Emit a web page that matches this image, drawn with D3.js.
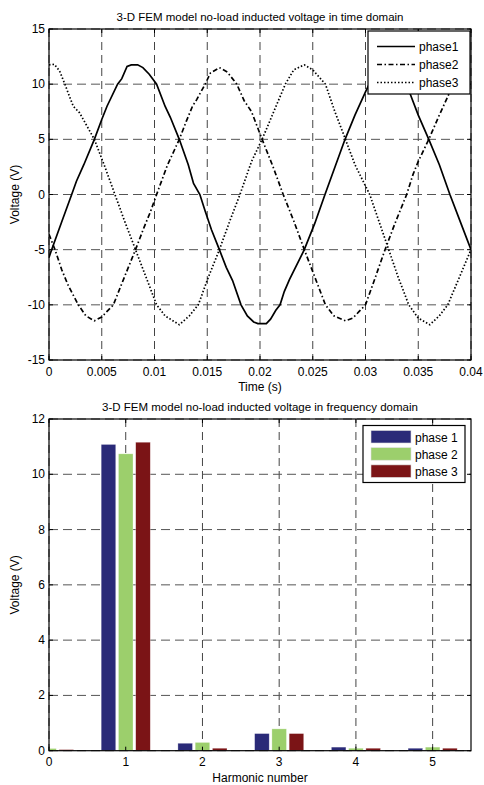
<!DOCTYPE html>
<html>
<head>
<meta charset="utf-8">
<script src="https://cdn.jsdelivr.net/npm/d3@7"></script>
<style>
  body { margin: 0; background: #fff; }
  text { font-family: "Liberation Sans", Arial, sans-serif; fill: #000; }
</style>
</head>
<body>
<div id="viz"></div>
<script>
// values: [time in ms, voltage]
let phase1 = [
  [0, -5.7], [0.25, -5], [1.2, -2.5], [2.15, 0], [2.6, 1.2], [3.3, 2.7], [4.3, 5],
  [5.0, 6.8], [5.5, 8.0], [6.5, 10], [6.9, 10.5], [7.4, 11.6], [7.8, 11.75], [8.4, 11.75],
  [8.9, 11.5], [9.5, 10.9], [10.2, 10], [11.0, 8.0], [11.5, 7.0], [12.35, 5], [13.2, 2.7],
  [13.7, 1.0], [14.3, 0], [14.8, -1.5], [15.4, -3.2], [16.15, -5], [16.8, -6.6], [17.4, -7.8],
  [18.2, -10], [18.8, -11.0], [19.4, -11.55], [19.8, -11.7], [20.6, -11.7], [21.0, -11.3],
  [21.5, -10.5], [21.9, -10], [22.3, -8.8], [22.8, -7.7], [24.2, -5], [25.2, -2.6], [26.16, 0],
  [28.06, 5], [29.0, 7.2], [30.0, 9.3], [30.6, 10.5], [31.2, 11.4], [31.8, 11.75], [32.6, 11.75],
  [33.2, 11.3], [33.8, 10.2], [34.2, 9.2], [35.0, 7.2], [36.0, 5], [37.0, 2.7], [38.0, 0],
  [39.0, -2.5], [40.0, -5]
];
let phase2 = [
  [0, -3.6], [0.57, -5], [1.2, -6.8], [1.8, -8.2], [2.78, -10], [3.5, -11.0], [4.3, -11.45],
  [5.0, -11.1], [5.5, -10.6], [6.1, -10], [7.1, -7.6], [8.2, -5], [9.0, -3.0], [9.6, -1.6],
  [10.2, 0], [11.2, 2.6], [12.35, 5], [13.0, 6.6], [13.6, 8.0], [14.0, 8.6], [14.8, 10],
  [15.3, 11.0], [16.15, 11.5], [16.9, 11.1], [17.8, 10], [18.5, 8.5], [19.2, 7.5], [20.2, 5],
  [21.2, 2.6], [22.2, 0], [23.2, -2.4], [24.2, -5], [25.2, -7.5], [26.2, -10], [27.0, -11.0],
  [28.1, -11.45], [28.8, -11.2], [29.4, -10.6], [30.0, -10.0], [30.9, -7.6], [31.85, -5],
  [32.8, -2.6], [33.9, 0], [34.5, 1.8], [35.0, 3.0], [36.0, 5], [37.0, 7.2], [38.0, 9.3],
  [38.8, 10.8], [39.5, 11.4], [40.0, 11.5]
];
let phase3 = [
  [0, 11.75], [0.5, 11.8], [1.0, 11.2], [1.5, 10], [2.3, 8.0], [2.9, 7.4], [4.3, 5],
  [5.3, 2.5], [6.25, 0], [7.2, -2.5], [8.2, -5], [9.2, -7.5], [10.2, -10], [11.0, -11.0],
  [12.35, -11.8], [13.3, -11.0], [14.15, -10], [15.1, -7.5], [16.15, -5], [17.1, -2.5],
  [18.1, 0], [19.2, 3.0], [20.2, 5], [21.3, 7.5], [22.4, 10], [23.2, 11.3], [24.2, 11.75],
  [25.0, 11.3], [26.2, 10], [27.1, 7.5], [28.1, 5], [29.0, 2.7], [30.4, 0], [31.3, -2.5],
  [32.2, -5], [33.1, -7.5], [34.1, -10], [35.0, -11.2], [36.1, -11.8], [37.0, -11.0],
  [37.8, -10], [38.9, -7.5], [40.0, -5]
];
let timeTicks = [0, 0.005, 0.01, 0.015, 0.02, 0.025, 0.03, 0.035, 0.04];
let voltTicks = [-15, -10, -5, 0, 5, 10, 15];

// harmonic spectrum
let harmonics = [0, 1, 2, 3, 4, 5];
let amp1 = [0.03, 11.08, 0.27, 0.62, 0.13, 0.09];
let amp2 = [0.08, 10.74, 0.30, 0.79, 0.09, 0.13];
let amp3 = [0.04, 11.16, 0.09, 0.62, 0.09, 0.09];
let ampTicks = [0, 2, 4, 6, 8, 10, 12];

let width = 484;
let height = 785;
let left = 49, right = 471;

let svg = d3.select("#viz")
  .append("svg")
  .attr("width", width)
  .attr("height", height);

// dashed grid behind the data
let drawGrid = function (g, x, y, xTicks, yTicks, top, bottom) {
  g.selectAll(".gx").data(xTicks).join("line")
    .attr("class", "gx")
    .attr("x1", d => x(d)).attr("x2", d => x(d))
    .attr("y1", top).attr("y2", bottom)
    .attr("stroke", "#444").attr("stroke-dasharray", "8,5");
  g.selectAll(".gy").data(yTicks).join("line")
    .attr("class", "gy")
    .attr("x1", left).attr("x2", right)
    .attr("y1", d => y(d)).attr("y2", d => y(d))
    .attr("stroke", "#555").attr("stroke-dasharray", "9,5");
};

// frame, inner ticks, labels and titles
let drawAxes = function (g, x, y, xTicks, yTicks, top, bottom, xTitle, yTitle, title) {
  let tl = 4;
  g.append("rect")
    .attr("x", left).attr("y", top)
    .attr("width", right - left).attr("height", bottom - top)
    .attr("fill", "none").attr("stroke", "#000").attr("stroke-width", 1.2);

  xTicks.forEach(function (d) {
    g.append("line").attr("x1", x(d)).attr("x2", x(d)).attr("y1", bottom).attr("y2", bottom - tl).attr("stroke", "#000");
    g.append("line").attr("x1", x(d)).attr("x2", x(d)).attr("y1", top).attr("y2", top + tl).attr("stroke", "#000");
  });
  yTicks.forEach(function (d) {
    g.append("line").attr("x1", left).attr("x2", left + tl).attr("y1", y(d)).attr("y2", y(d)).attr("stroke", "#000");
    g.append("line").attr("x1", right).attr("x2", right - tl).attr("y1", y(d)).attr("y2", y(d)).attr("stroke", "#000");
  });

  g.selectAll(".xl").data(xTicks).join("text")
    .attr("class", "xl")
    .attr("x", d => x(d)).attr("y", bottom + 15.5)
    .attr("text-anchor", "middle").attr("font-size", 12)
    .text(d => d);
  g.selectAll(".yl").data(yTicks).join("text")
    .attr("class", "yl")
    .attr("x", left - 4).attr("y", d => y(d) + 4)
    .attr("text-anchor", "end").attr("font-size", 12)
    .text(d => d);

  g.append("text")
    .attr("x", (left + right) / 2).attr("y", bottom + 31)
    .attr("text-anchor", "middle").attr("font-size", 12)
    .text(xTitle);
  g.append("text")
    .attr("transform", `translate(19,${(top + bottom) / 2}) rotate(-90)`)
    .attr("text-anchor", "middle").attr("font-size", 12)
    .text(yTitle);
  g.append("text")
    .attr("x", (left + right) / 2).attr("y", top - 8)
    .attr("text-anchor", "middle").attr("font-size", 11.5)
    .text(title);
};

// ---------- top chart: time domain ----------
let top1 = 29, bottom1 = 360;
let xt = d3.scaleLinear().domain([0, 0.04]).range([left, right]);
let yt = d3.scaleLinear().domain([-15, 15]).range([bottom1, top1]);

let g1 = svg.append("g");
g1.append("g").call(g => drawGrid(g, xt, yt, timeTicks, voltTicks, top1, bottom1));

svg.append("clipPath").attr("id", "clip1")
  .append("rect").attr("x", left).attr("y", top1).attr("width", right - left).attr("height", bottom1 - top1);

let line = d3.line().x(d => xt(d[0] / 1000)).y(d => yt(d[1]));

let series = [
  { name: "phase1", data: phase1, dash: null },
  { name: "phase2", data: phase2, dash: "5,2.5,1.5,2.5" },
  { name: "phase3", data: phase3, dash: "1.5,2" }
];

g1.append("g").attr("clip-path", "url(#clip1)")
  .selectAll("path").data(series).join("path")
  .attr("d", d => line(d.data))
  .attr("fill", "none").attr("stroke", "#000").attr("stroke-width", 1.7)
  .attr("stroke-dasharray", d => d.dash);

g1.append("g").call(g => drawAxes(g, xt, yt, timeTicks, voltTicks, top1, bottom1,
  "Time (s)", "Voltage (V)", "3-D FEM model no-load inducted voltage in time domain"));

// legend
let leg1 = g1.append("g");
leg1.append("rect").attr("x", 368).attr("y", 31).attr("width", 102).attr("height", 63)
  .attr("fill", "#fff").attr("stroke", "#000").attr("stroke-width", 1.2);
series.forEach(function (s, i) {
  let ly = 46.5 + i * 18;
  leg1.append("line").attr("x1", 377).attr("x2", 415).attr("y1", ly).attr("y2", ly)
    .attr("stroke", "#000").attr("stroke-width", 1.7).attr("stroke-dasharray", s.dash);
  leg1.append("text").attr("x", 419).attr("y", ly + 4.5).attr("font-size", 12).text(s.name);
});

// ---------- bottom chart: frequency domain ----------
let top2 = 419, bottom2 = 750.7;
let xf = d3.scaleLinear().domain([0, 5.5]).range([left, right]);
let yf = d3.scaleLinear().domain([0, 12]).range([bottom2, top2]);

let g2 = svg.append("g");
g2.append("g").call(g => drawGrid(g, xf, yf, harmonics, ampTicks, top2, bottom2));

svg.append("clipPath").attr("id", "clip2")
  .append("rect").attr("x", left).attr("y", top2).attr("width", right - left).attr("height", bottom2 - top2);

let bars = [
  { name: "phase 1", values: amp1, colour: "#2a2a78" },
  { name: "phase 2", values: amp2, colour: "#9ccf6c" },
  { name: "phase 3", values: amp3, colour: "#7b1416" }
];
let offset = 0.225, barW = 0.19;

g2.append("g").attr("clip-path", "url(#clip2)")
  .selectAll("g").data(bars).join("g")
  .attr("fill", d => d.colour)
  .each(function (s, si) {
    d3.select(this).selectAll("rect")
      .data(harmonics.map((h, i) => [h, s.values[i]]))
      .join("rect")
      .attr("x", d => xf(d[0] + (si - 1) * offset - barW / 2))
      .attr("width", xf(barW) - xf(0))
      .attr("y", d => yf(d[1]))
      .attr("height", d => yf(0) - yf(d[1]))
      .attr("stroke", "#fff").attr("stroke-opacity", 0.5).attr("stroke-width", 0.6);
  });

g2.append("g").call(g => drawAxes(g, xf, yf, harmonics, ampTicks, top2, bottom2,
  "Harmonic number", "Voltage (V)", "3-D FEM model no-load inducted voltage in frequency domain"));

let leg2 = g2.append("g");
leg2.append("rect").attr("x", 363).attr("y", 425.5).attr("width", 102).attr("height", 57)
  .attr("fill", "#fff").attr("stroke", "#000").attr("stroke-width", 1.2);
bars.forEach(function (s, i) {
  let ly = 430.5 + i * 17.2;
  leg2.append("rect").attr("x", 371).attr("y", ly).attr("width", 40).attr("height", 12.5)
    .attr("fill", s.colour).attr("stroke", "#ddd").attr("stroke-width", 0.6);
  leg2.append("text").attr("x", 415).attr("y", ly + 11).attr("font-size", 12).text(s.name);
});
</script>
</body>
</html>
